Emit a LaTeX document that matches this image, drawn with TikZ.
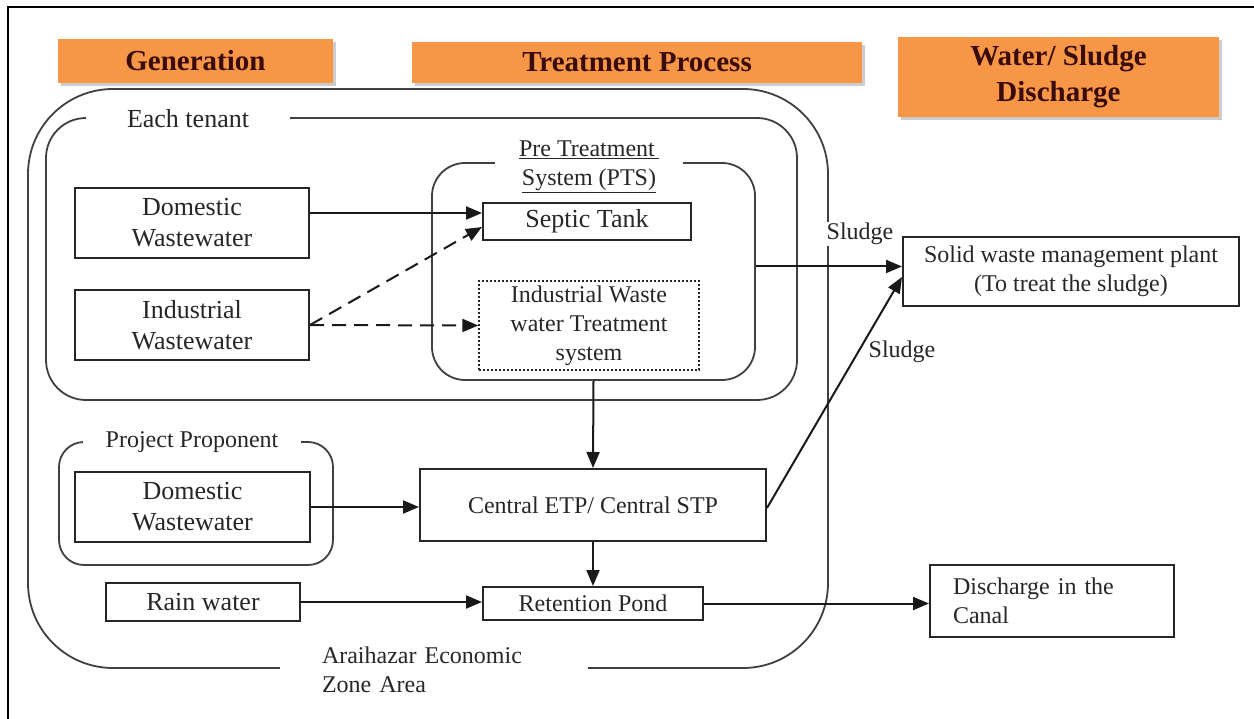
\documentclass[tikz,border=0pt]{standalone}
\usepackage{fontspec}
\setmainfont{Liberation Serif}
\usetikzlibrary{arrows.meta,shadows}
\definecolor{hdrorange}{HTML}{F79646}
\definecolor{hdrtext}{HTML}{3A0B0B}

\begin{document}
\begin{tikzpicture}[x=1pt,y=-1pt,>={Triangle[length=16pt,width=13pt]}]
  \tikzstyle{header}=[fill=hdrorange, text=hdrtext, inner sep=0pt, align=center,
    font=\fontsize{29}{36}\selectfont\bfseries,
    drop shadow={shadow xshift=3pt,shadow yshift=-3pt,fill=black!40}]
  \tikzstyle{wbox}=[draw=black!85, line width=2pt, inner sep=0pt, align=center,
    text=black!85, font=\fontsize{26}{31}\selectfont]
  \tikzstyle{sbox}=[wbox, font=\fontsize{24}{29}\selectfont]
  \tikzstyle{region}=[draw=black!75, line width=1.8pt, inner sep=0pt]
  \tikzstyle{gaptext}=[fill=white, text=black!85, inner ysep=2pt, align=center,
    font=\fontsize{24}{29}\selectfont]
  \tikzstyle{flow}=[->, line width=2pt, draw=black!90]
  \tikzstyle{dashflow}=[flow, dash pattern=on 14pt off 8pt]
  \useasboundingbox (0,0) rectangle (1254,719);

  % page frame
  \draw[line width=2.5pt] (8,719) -- (8,7) -- (1254,7);

  % column headers
  \node[header, minimum width=275, minimum height=44] (hgen) at (195.5,61) {Generation};
  \node[header, minimum width=450, minimum height=41] (htreat) at (637,62.5) {Treatment Process};
  \node[header, minimum width=321, minimum height=80] (hdisch) at (1058.5,77) {Water/ Sludge\\Discharge};

  % regions
  \node[region, rounded corners=85pt, minimum width=800, minimum height=579] (ez) at (428,378.5) {};
  \node[region, rounded corners=40pt, minimum width=751, minimum height=282] (tenant) at (421.5,259) {};
  \node[region, rounded corners=33pt, minimum width=323, minimum height=217] (pts) at (593.5,271.5) {};
  \node[region, rounded corners=25pt, minimum width=274, minimum height=123] (pp) at (196,503.5) {};

  % region titles
  \node[gaptext, font=\fontsize{26}{31}\selectfont, minimum width=204] (tenanttitle) at (188,119) {Each tenant};
  \node[gaptext, minimum width=188] (ptstitle) at (589,167) {\underline{Pre Treatment\,}\\\underline{System (PTS)}};
  \node[gaptext, minimum width=218] (pptitle) at (192,442) {Project Proponent};
  \node[gaptext, text width=224, inner xsep=42pt, align=left] (eztitle) at (434,670) {Araihazar Economic\\Zone Area};

  % boxes
  \node[wbox, minimum width=234, minimum height=70] (dom1) at (192,223) {Domestic\\Wastewater};
  \node[wbox, minimum width=234, minimum height=70] (ind1) at (192,325) {Industrial\\Wastewater};
  \node[wbox, minimum width=208, minimum height=37] (septic) at (587,221.5) {Septic Tank};
  \node[sbox, dash pattern=on 2pt off 2pt, line width=1.4pt, minimum width=220, minimum height=89] (iwts) at (589,325.5) {Industrial Waste\\water Treatment\\system};
  \node[wbox, minimum width=235, minimum height=70] (dom2) at (192.5,507) {Domestic\\Wastewater};
  \node[wbox, minimum width=194, minimum height=38] (rain) at (203,602) {Rain water};
  \node[sbox, minimum width=346, minimum height=72] (cetp) at (593,505) {Central ETP/ Central STP};
  \node[sbox, minimum width=220, minimum height=33] (pond) at (593,603.5) {Retention Pond};
  \node[sbox, minimum width=336, minimum height=69] (swm) at (1071,271.5) {Solid waste management plant\\(To treat the sludge)};
  \node[sbox, text width=198, inner xsep=23pt, align=left, minimum height=72] (canal) at (1052,601) {Discharge in the\\Canal};

  % flows
  \draw[flow] ([yshift=10pt]dom1.east) -- ([yshift=10pt]dom1.east -| septic.west);
  \draw[dashflow] (ind1.east) -- ([yshift=-5.5pt]septic.west);
  \draw[dashflow] (ind1.east) -- (iwts.west);
  \draw[flow] (pts.south) -- (cetp.north);
  \draw[flow] ([yshift=5pt]pts.east) -- ([yshift=5pt]pts.east -| swm.west);
  \draw[flow] ([yshift=-3pt]cetp.east) -- ([yshift=-5.5pt]swm.west);
  \draw[flow] (dom2.east) -- (dom2.east -| cetp.west);
  \draw[flow] (cetp.south) -- (pond.north);
  \draw[flow] (rain.east) -- (rain.east -| pond.west);
  \draw[flow] (pond.east) -- (pond.east -| canal.west);

  % flow labels
  \node[gaptext, inner sep=1pt] (sludge1) at (860,234) {Sludge};
  \node[gaptext, inner sep=1pt] (sludge2) at (902,352) {Sludge};
\end{tikzpicture}
\end{document}
